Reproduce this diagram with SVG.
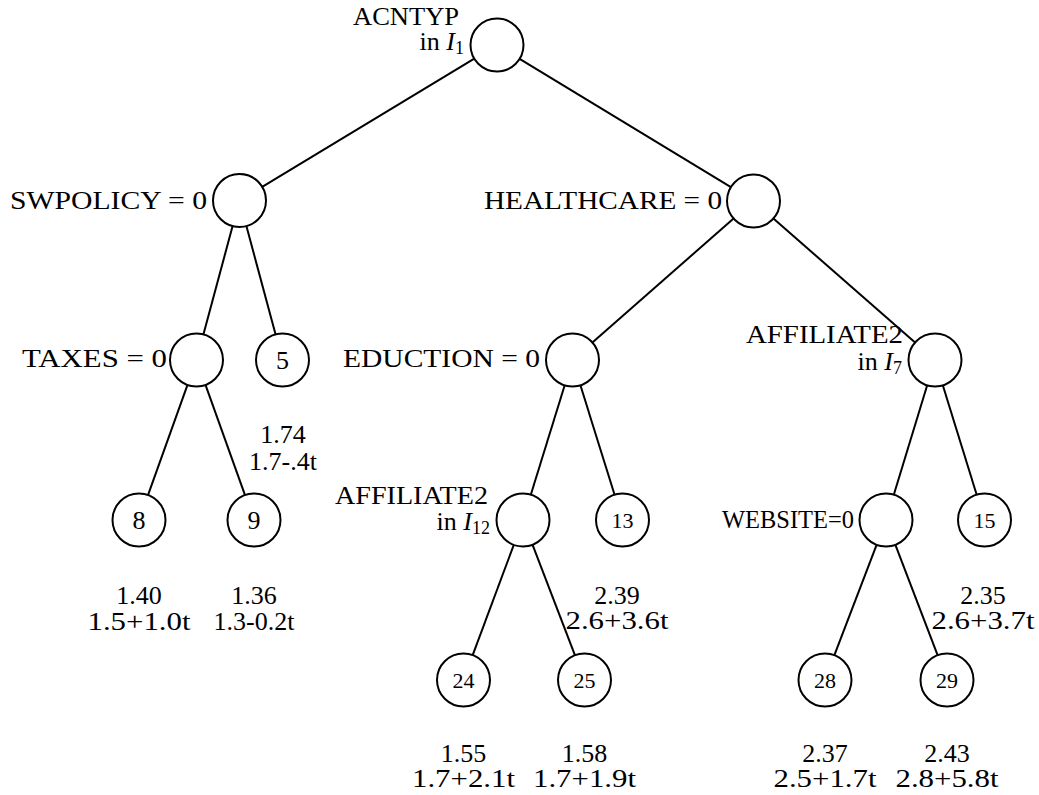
<svg xmlns="http://www.w3.org/2000/svg" width="1039" height="795" viewBox="0 0 1039 795">
<style>
text{font-family:"Liberation Serif","DejaVu Serif",serif;font-size:26px;fill:#000}
.lbl{text-anchor:end}
.mid{text-anchor:middle}
.sm{font-size:22px}
circle{fill:#fff;stroke:#000;stroke-width:2}
#edges line{stroke:#000;stroke-width:2}
</style>
<rect width="1039" height="795" fill="#fff"/>
<g id="edges">
<line x1="474.3" y1="58.7" x2="262.2" y2="186.8"/>
<line x1="519.6" y1="58.8" x2="730.9" y2="187.2"/>
<line x1="232.6" y1="226.1" x2="203.4" y2="334.4"/>
<line x1="246.4" y1="226.1" x2="275.6" y2="334.4"/>
<line x1="733.6" y1="218.5" x2="592.4" y2="342.5"/>
<line x1="773.4" y1="218.5" x2="915.1" y2="342.5"/>
<line x1="187.5" y1="384.9" x2="148" y2="495.1"/>
<line x1="205.5" y1="384.9" x2="245" y2="495.1"/>
<line x1="564.7" y1="385.3" x2="530.8" y2="494.7"/>
<line x1="580.4" y1="385.3" x2="614.6" y2="494.7"/>
<line x1="927.2" y1="385.3" x2="893.8" y2="494.7"/>
<line x1="942.8" y1="385.3" x2="976.7" y2="494.7"/>
<line x1="513.8" y1="544.8" x2="472.7" y2="655.2"/>
<line x1="532.5" y1="544.7" x2="575" y2="655.3"/>
<line x1="876.6" y1="544.8" x2="834.4" y2="655.2"/>
<line x1="895.4" y1="544.8" x2="937.6" y2="655.2"/>
</g>
<g id="n-root">
<circle cx="497" cy="45" r="26.5"/>
<text class="lbl" x="459" y="25" textLength="106" lengthAdjust="spacingAndGlyphs">ACNTYP</text>
<text class="lbl" x="464" y="50">in <tspan font-style="italic">I</tspan><tspan font-size="18" dy="4">1</tspan></text>
</g>
<g id="n-swpolicy">
<circle cx="239.5" cy="200.5" r="26.5"/>
<text class="lbl" x="207" y="209" textLength="197" lengthAdjust="spacingAndGlyphs">SWPOLICY = 0</text>
</g>
<g id="n-healthcare">
<circle cx="753.5" cy="201" r="26.5"/>
<text class="lbl" x="722" y="209" textLength="238" lengthAdjust="spacingAndGlyphs">HEALTHCARE = 0</text>
</g>
<g id="n-taxes">
<circle cx="196.5" cy="360" r="26.5"/>
<text class="lbl" x="167" y="367" textLength="145" lengthAdjust="spacingAndGlyphs">TAXES = 0</text>
</g>
<g id="n-5">
<circle cx="282.5" cy="360" r="26.5"/>
<text class="mid" x="282.5" y="369">5</text>
</g>
<g id="n-eduction">
<circle cx="572.5" cy="360" r="26.5"/>
<text class="lbl" x="540" y="367" textLength="197" lengthAdjust="spacingAndGlyphs">EDUCTION = 0</text>
</g>
<g id="n-affiliate7">
<circle cx="935" cy="360" r="26.5"/>
<text class="lbl" x="903" y="343" textLength="157" lengthAdjust="spacingAndGlyphs">AFFILIATE2</text>
<text class="lbl" x="902" y="370">in <tspan font-style="italic">I</tspan><tspan font-size="18" dy="4">7</tspan></text>
</g>
<g id="n-8">
<circle cx="139" cy="520" r="26.5"/>
<text class="mid" x="139" y="529">8</text>
<text class="mid" x="139" y="604">1.40</text>
<text class="mid" x="139" y="630" textLength="103" lengthAdjust="spacingAndGlyphs">1.5+1.0t</text>
</g>
<g id="n-9">
<circle cx="254" cy="520" r="26.5"/>
<text class="mid" x="254" y="529">9</text>
<text class="mid" x="283" y="443">1.74</text>
<text class="mid" x="283" y="470">1.7-.4t</text>
<text class="mid" x="254" y="604">1.36</text>
<text class="mid" x="254" y="630">1.3-0.2t</text>
</g>
<g id="n-affiliate12">
<circle cx="523" cy="520" r="26.5"/>
<text class="lbl" x="488" y="504" textLength="153" lengthAdjust="spacingAndGlyphs">AFFILIATE2</text>
<text class="lbl" x="490" y="530">in <tspan font-style="italic">I</tspan><tspan font-size="18" dy="4">12</tspan></text>
</g>
<g id="n-13">
<circle cx="622.5" cy="520" r="26.5"/>
<text class="mid sm" x="622.5" y="528">13</text>
<text class="mid" x="617" y="604">2.39</text>
<text class="mid" x="617" y="629" textLength="103" lengthAdjust="spacingAndGlyphs">2.6+3.6t</text>
</g>
<g id="n-website">
<circle cx="886" cy="520" r="26.5"/>
<text class="lbl" x="854" y="528" textLength="132" lengthAdjust="spacingAndGlyphs">WEBSITE=0</text>
</g>
<g id="n-15">
<circle cx="984.5" cy="520" r="26.5"/>
<text class="mid sm" x="984.5" y="528">15</text>
<text class="mid" x="983" y="604">2.35</text>
<text class="mid" x="983" y="629" textLength="103" lengthAdjust="spacingAndGlyphs">2.6+3.7t</text>
</g>
<g id="n-24">
<circle cx="463.5" cy="680" r="26.5"/>
<text class="mid sm" x="463.5" y="688">24</text>
<text class="mid" x="463.5" y="762">1.55</text>
<text class="mid" x="463.5" y="787" textLength="103" lengthAdjust="spacingAndGlyphs">1.7+2.1t</text>
</g>
<g id="n-25">
<circle cx="584.5" cy="680" r="26.5"/>
<text class="mid sm" x="584.5" y="688">25</text>
<text class="mid" x="584.5" y="762">1.58</text>
<text class="mid" x="584.5" y="787" textLength="103" lengthAdjust="spacingAndGlyphs">1.7+1.9t</text>
</g>
<g id="n-28">
<circle cx="825" cy="680" r="26.5"/>
<text class="mid sm" x="825" y="688">28</text>
<text class="mid" x="825" y="762">2.37</text>
<text class="mid" x="825" y="787" textLength="103" lengthAdjust="spacingAndGlyphs">2.5+1.7t</text>
</g>
<g id="n-29">
<circle cx="947" cy="680" r="26.5"/>
<text class="mid sm" x="947" y="688">29</text>
<text class="mid" x="947" y="762">2.43</text>
<text class="mid" x="947" y="787" textLength="103" lengthAdjust="spacingAndGlyphs">2.8+5.8t</text>
</g>
</svg>
